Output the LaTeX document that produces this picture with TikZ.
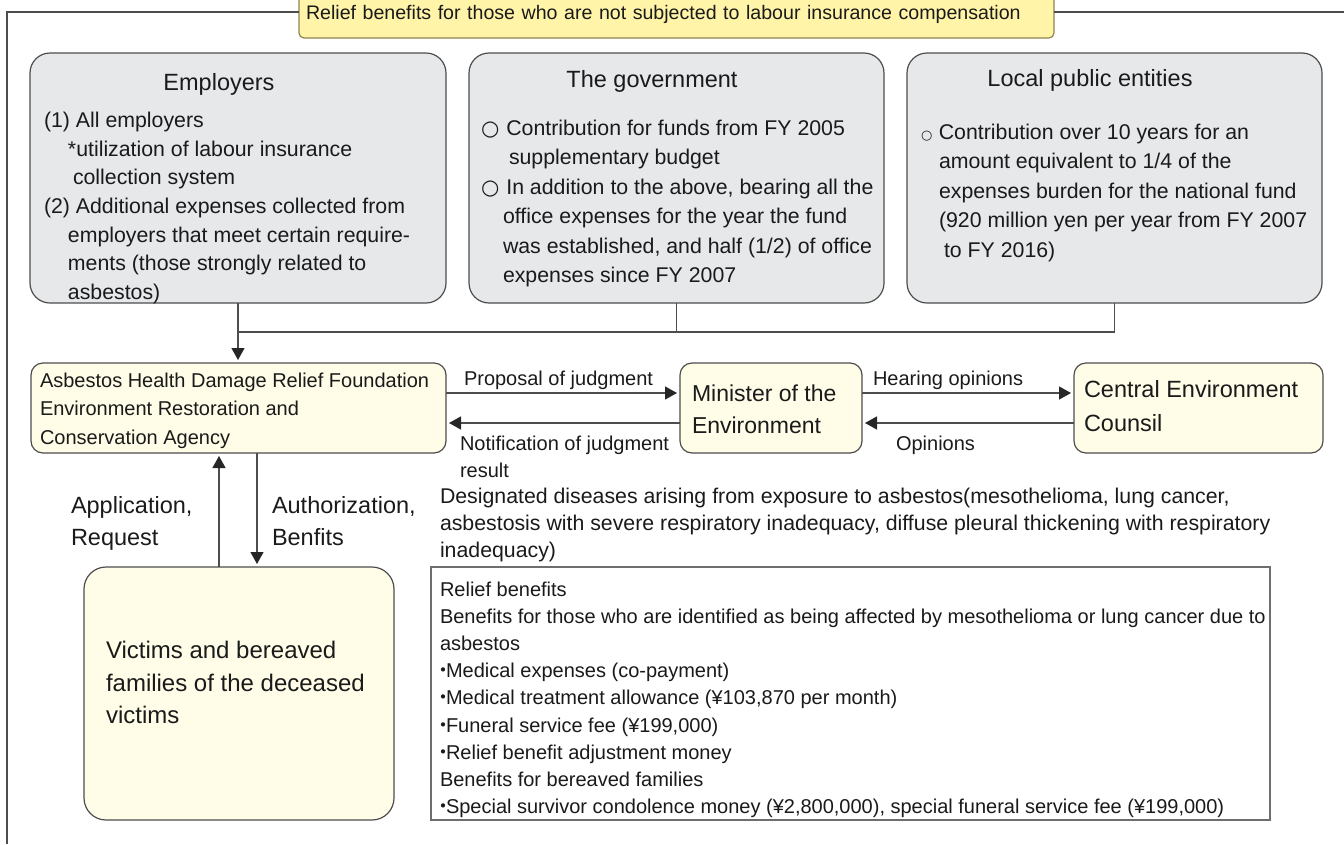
\documentclass[tikz,border=0pt]{standalone}
\usepackage{fontspec}
\setmainfont{Liberation Sans}
\newfontfamily\symf{DejaVu Sans}
\newfontfamily\cjkf{Noto Sans CJK JP}
\usetikzlibrary{arrows.meta}
\definecolor{bannerfill}{HTML}{FFF4A8}
\definecolor{bannerdraw}{HTML}{8F8550}
\definecolor{greyfill}{HTML}{E7E8EA}
\definecolor{creamfill}{HTML}{FFFDE8}
\definecolor{linec}{HTML}{4D4D4D}
\definecolor{tipc}{HTML}{262626}
\definecolor{textc}{HTML}{1A1A1A}
\definecolor{reliefdraw}{HTML}{6E6E6E}
\newcommand\fs[2]{\fontsize{#1}{#2}\selectfont}
\newcommand\kdot{\makebox[6pt][c]{\cjkf ・}}
\begin{document}
\begin{tikzpicture}[x=1pt,y=-1pt,
  every node/.style={inner sep=0pt, outer sep=0pt, text=textc},
  topbox/.style={draw=linec, fill=greyfill, line width=1.2pt, rounded corners=20pt},
  midbox/.style={draw=linec, fill=creamfill, line width=1.2pt, rounded corners=12pt},
  victbox/.style={draw=linec, fill=creamfill, line width=1.2pt, rounded corners=22pt},
  reliefbox/.style={draw=reliefdraw, fill=white, line width=1.2pt},
  bannerbox/.style={draw=bannerdraw, fill=bannerfill, line width=1.2pt, rounded corners=5pt},
  txt/.style={anchor=north west, align=left},
  conn/.style={draw=linec, line width=1.2pt},
  arr/.style={conn, -{Triangle[length=12pt,width=13pt,color=tipc]}, shorten >=3pt},
]
\useasboundingbox (0,0) rectangle (1344,844);

% frame and banner
\node[bannerbox, minimum width=755pt, minimum height=44pt, text width=741pt, align=left,
      inner xsep=7pt, text height=14.3pt, text depth=8.2pt, font=\fs{19.6}{24}]
      (banner) at (676.5,16) {Relief benefits for those who are not subjected to labour insurance compensation};
\coordinate (ftl) at (7,12);
\coordinate (fbl) at (7,844);
\coordinate (ftr) at (1344,12);
\draw[line width=1.2pt, draw=linec] (fbl) -- (ftl) -- (ftl -| banner.west);
\draw[line width=1.2pt, draw=linec] (ftr -| banner.east) -- (ftr);

% top boxes
\node[topbox, minimum width=416pt, minimum height=250pt] (emp) at (238,178) {};
\node[topbox, minimum width=415pt, minimum height=250pt] (gov) at (676.5,178) {};
\node[topbox, minimum width=415pt, minimum height=250pt] (loc) at (1114.5,178) {};

\node[anchor=base, font=\fs{23.5}{28}] (empti) at (219,90.7) {Employers};
\node[anchor=base, font=\fs{23.5}{28}] (govti) at (652,87.5) {The government};
\node[anchor=base, font=\fs{23.5}{28}] (locti) at (1090,86) {Local public entities};

\node[txt, font=\fs{21.3}{28.7}] (empt) at (44,112) {(1) All employers\\
\hspace*{24pt}*utilization of labour insurance\\
\hspace*{29pt}collection system\\
(2) Additional expenses collected from\\
\hspace*{24pt}employers that meet certain require-\\
\hspace*{24pt}ments (those strongly related to\\
\hspace*{24pt}asbestos)};

\node[txt, font=\fs{21.3}{29.5}] (govt) at (481,120) {{\symf\fs{21}{29.5}○}\hspace{7pt}Contribution for funds from FY 2005\\
\hspace*{28pt}supplementary budget\\
{\symf\fs{21}{29.5}○}\hspace{7pt}In addition to the above, bearing all the\\
\hspace*{22pt}office expenses for the year the fund\\
\hspace*{22pt}was established, and half (1/2) of office\\
\hspace*{22pt}expenses since FY 2007};

\node[txt, font=\fs{21.3}{29.5}] (loct) at (921,124) {{\symf\fs{13}{13}○}\hspace{6.5pt}Contribution over 10 years for an\\
\hspace*{18pt}amount equivalent to 1/4 of the\\
\hspace*{18pt}expenses burden for the national fund\\
\hspace*{18pt}(920 million yen per year from FY 2007\\
\hspace*{23pt}to FY 2016)};

% middle row
\node[midbox, minimum width=415pt, minimum height=90pt] (asb) at (238.5,408) {};
\node[midbox, minimum width=182pt, minimum height=90pt] (min) at (771,408) {};
\node[midbox, minimum width=249pt, minimum height=90pt] (cec) at (1198.5,408) {};

\node[txt, font=\fs{20}{28.5}] (asbt) at (40,372.6) {Asbestos Health Damage Relief Foundation\\Environment Restoration and\\Conservation Agency};
\node[txt, font=\fs{23}{32}] (mint) at (692,384.5) {Minister of the\\Environment};
\node[txt, font=\fs{23.5}{34}] (cect) at (1084,380.3) {Central Environment\\Counsil};

% connectors from funders
\coordinate (jl) at (238,332);
\coordinate (jr) at (1114.5,332);
\draw[conn] (loc.south) -- (jr) -- (jl);
\draw[conn] (gov.south) -- (gov.south |- jl);
\draw[arr] (emp.south) -- (emp.south |- asb.north);

% horizontal arrows
\draw[arr] ([yshift=15pt]asb.east) -- ([yshift=15pt]min.west);
\draw[arr] ([yshift=-15pt]min.west) -- ([yshift=-15pt]asb.east);
\draw[arr] ([yshift=15pt]min.east) -- ([yshift=15pt]cec.west);
\draw[arr] ([yshift=-15pt]cec.west) -- ([yshift=-15pt]min.east);

\node[txt, font=\fs{20}{27}] (lprop) at (464,370.6) {Proposal of judgment};
\node[txt, font=\fs{20}{27}] (lnoti) at (460,435.6) {Notification of judgment\\result};
\node[txt, font=\fs{20}{27}] (lhear) at (873,370.6) {Hearing opinions};
\node[txt, font=\fs{20}{27}] (lopin) at (896,435.6) {Opinions};

% victims
\node[victbox, minimum width=310pt, minimum height=253pt] (vic) at (239,693.5) {};
\node[txt, font=\fs{24}{32.5}] (vict) at (106,641.1) {Victims and bereaved\\families of the deceased\\victims};

\draw[arr] ([xshift=-20pt]vic.north) -- ([xshift=-19.5pt]asb.south);
\draw[arr] ([xshift=18.5pt]asb.south) -- ([xshift=18pt]vic.north);

\node[txt, font=\fs{23.5}{32}] (lapp) at (71,496.3) {Application,\\Request};
\node[txt, font=\fs{23.5}{32}] (lauth) at (272,496.3) {Authorization,\\Benfits};

% designated diseases
\node[txt, font=\fs{21.3}{27}] (desig) at (440,488.2) {Designated diseases arising from exposure to asbestos(mesothelioma, lung cancer,\\asbestosis with severe respiratory inadequacy, diffuse pleural thickening with respiratory\\inadequacy)};

% relief benefits box
\node[reliefbox, minimum width=839pt, minimum height=253pt] (rel) at (850.5,693.5) {};
\node[txt, font=\fs{20}{27.2}] (relt) at (440,581.6) {Relief benefits\\
Benefits for those who are identified as being affected by mesothelioma or lung cancer due to\\
asbestos\\
\kdot Medical expenses (co-payment)\\
\kdot Medical treatment allowance (¥103,870 per month)\\
\kdot Funeral service fee (¥199,000)\\
\kdot Relief benefit adjustment money\\
Benefits for bereaved families\\
\kdot Special survivor condolence money (¥2,800,000), special funeral service fee (¥199,000)};
\end{tikzpicture}
\end{document}
